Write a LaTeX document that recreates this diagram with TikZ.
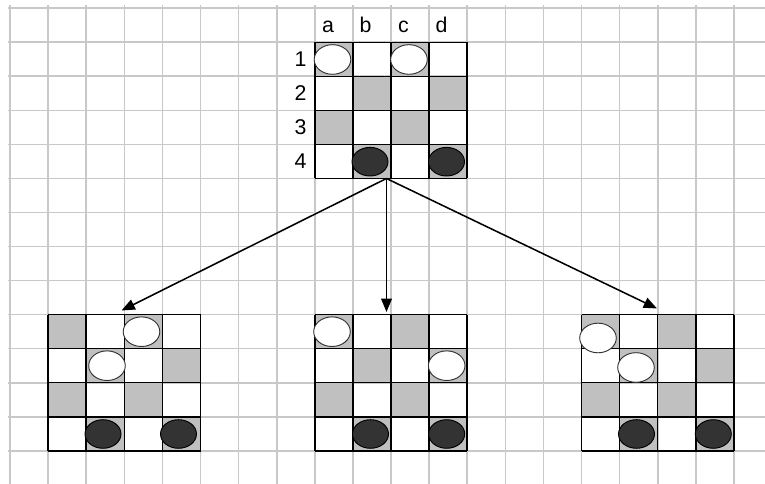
\documentclass[tikz,border=0pt]{standalone}
\usepackage{fontspec}
\setmainfont{Liberation Sans}
\usetikzlibrary{arrows.meta}
\definecolor{cellgray}{RGB}{192,192,192}
\definecolor{gridgray}{RGB}{200,200,200}
\definecolor{piecedark}{RGB}{51,51,51}
\tikzset{
  gridline/.style={draw=gridgray, line width=1.2pt},
  boardline/.style={draw=black, line width=1.1pt},
  graycell/.style={fill=cellgray},
  wpiece/.style={draw=black!80, line width=0.7pt, fill=white},
  bpiece/.style={draw=black, line width=0.7pt, fill=piecedark},
  movearrow/.style={draw=black, line width=1.15pt, -{Triangle[length=10pt,width=8pt]}},
  lbl/.style={inner sep=0pt, anchor=base, font=\fontsize{16}{18}\selectfont, text=black}
}
% board: #1 = left x, #2 = top y (px)
\newcommand\mydrawboard[2]{%
  \begin{scope}[shift={(#1,#2)}]
    \foreach \c in {0,...,3}{\foreach \r in {0,...,3}{%
      \pgfmathtruncatemacro\myparity{mod(\c+\r,2)}%
      \ifnum\myparity=0 \fill[graycell] (38.1*\c,34.05*\r) rectangle ++(38.1,34.05);\fi}}
    \foreach \c in {0,...,4}{\draw[boardline] (38.1*\c,0) -- (38.1*\c,136.2);}
    \foreach \r in {0,...,4}{\draw[boardline] (0,34.05*\r) -- (152.4,34.05*\r);}
  \end{scope}}
\newcommand\mywhite[2]{\draw[wpiece] (#1,#2) ellipse [x radius=18.3, y radius=14.8];}
\newcommand\myblack[2]{\draw[bpiece] (#1,#2) ellipse [x radius=18, y radius=14.3];}
\begin{document}
\begin{tikzpicture}[x=0.75pt,y=-0.75pt]
\useasboundingbox (0,0) rectangle (765,484);
\fill[white] (0,0) rectangle (765,484);
% grid
\foreach \k in {0,...,19}{\draw[gridline] (10+38.1*\k,5) -- (10+38.1*\k,484);}
\foreach \j in {0,...,13}{\draw[gridline] (8,8.2+34.05*\j) -- (765,8.2+34.05*\j);}
% boards
\mydrawboard{314.8}{42.25}
\mydrawboard{48.1}{314.65}
\mydrawboard{314.8}{314.65}
\mydrawboard{581.5}{314.65}
% pieces top
\mywhite{332.5}{59.5}\mywhite{409}{59.5}
\myblack{370}{161.7}\myblack{446.5}{161.7}
% pieces left
\mywhite{141.5}{331.7}\mywhite{107}{365.7}
\myblack{103}{434}\myblack{178.5}{434}
% pieces middle
\mywhite{332}{331.7}\mywhite{446.7}{365.7}
\myblack{370.5}{434}\myblack{446.7}{434}
% pieces right
\mywhite{598}{338}\mywhite{636}{367.5}
\myblack{636.5}{434}\myblack{713.3}{434}
% labels
\node[lbl] (la) at (328,33) {a};
\node[lbl] (lb) at (365.5,33) {b};
\node[lbl] (lc) at (403.5,33) {c};
\node[lbl] (ld) at (441.5,33) {d};
\node[lbl] (n1) at (300.5,67) {1};
\node[lbl] (n2) at (300.5,101) {2};
\node[lbl] (n3) at (300.5,135) {3};
\node[lbl] (n4) at (300.5,169) {4};
% arrows
\coordinate (src) at (386.5,178.5);
\coordinate (tl) at (121.5,310.5);
\coordinate (tm) at (386.5,312);
\coordinate (tr) at (657,308.5);
\draw[movearrow] (src) -- (tl);
\draw[movearrow] (src) -- (tm);
\draw[movearrow] (src) -- (tr);
\end{tikzpicture}
\end{document}
